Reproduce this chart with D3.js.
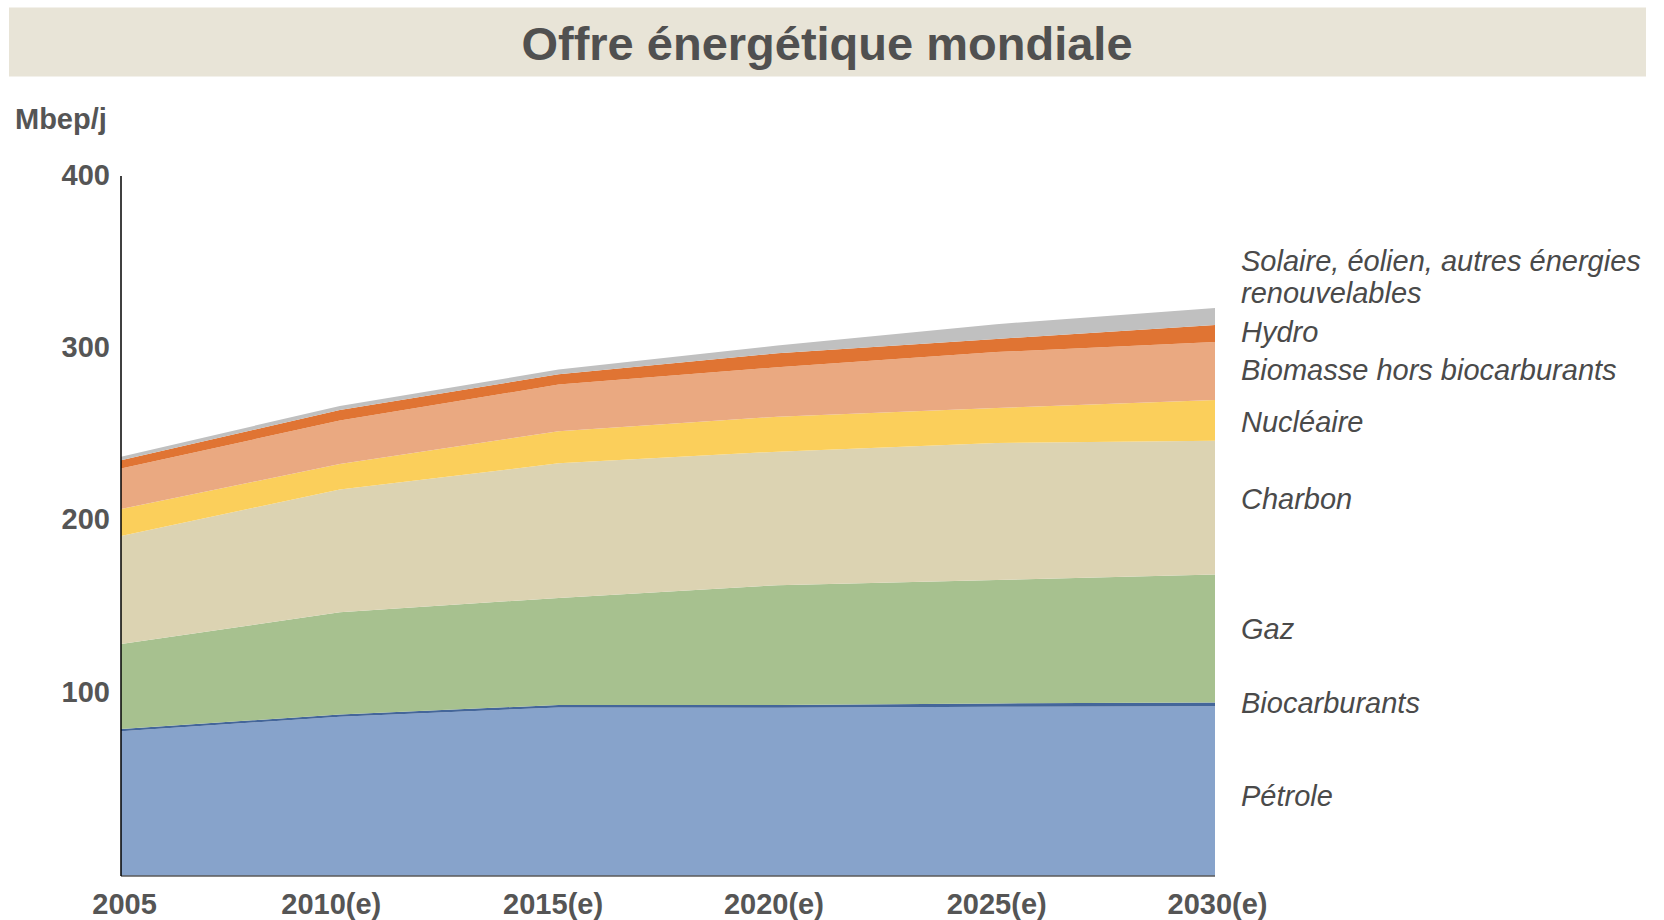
<!DOCTYPE html>
<html>
<head>
<meta charset="utf-8">
<script src="https://cdn.jsdelivr.net/npm/d3@7"></script>
<style>
  body { margin: 0; background: #fff; }
  text { font-family: "Liberation Sans", Arial, sans-serif; }
</style>
</head>
<body>
<script>
// values, Mbep/j
const years = ["2005", "2010(e)", "2015(e)", "2020(e)", "2025(e)", "2030(e)"]
const petrole = [82.7, 91.0, 96.3, 96.1, 96.7, 97.0]
const biocarburants = [1.3, 1.3, 1.4, 1.6, 1.9, 2.1]
const gaz = [48.6, 58.4, 61.2, 68.5, 70.5, 73.2]
const charbon = [61.7, 70.2, 76.9, 76.3, 78.3, 76.4]
const nucleaire = [15.4, 14.5, 18.4, 20.0, 20.0, 23.3]
const biomasse = [23.1, 24.9, 26.6, 28.2, 32.0, 33.1]
const hydro = [4.8, 6.0, 5.9, 8.0, 7.5, 9.8]
const solaire = [2.0, 2.3, 2.7, 4.4, 8.4, 9.7]

const seriesNames = ["Pétrole", "Biocarburants", "Gaz", "Charbon", "Nucléaire",
  "Biomasse hors biocarburants", "Hydro", "Solaire, éolien, autres énergies renouvelables"]
const seriesValues = [petrole, biocarburants, gaz, charbon, nucleaire, biomasse, hydro, solaire]
const yTicks = [100, 200, 300, 400]

const colors = ["#87a3cb", "#44669a", "#a7c18f", "#dcd3b2", "#fbcf5b", "#eaa981", "#e07433", "#c0c0c0"]
// small vertical shifts of the right-hand labels from the band middle
const labelNudge = [5, -1, -9.5, -8.6, 1.6, -1, -1.7, -39]
// the year labels in the picture are not exactly centred on the points
const yearNudge = [3, -9, -6, -4, 0, 2]

const width = 1664
const height = 920
const textColor = "#555555"

const svg = d3.select("body").append("svg")
  .attr("width", width)
  .attr("height", height)

// title band
svg.append("rect")
  .attr("x", 9).attr("y", 7.5)
  .attr("width", 1637).attr("height", 69)
  .attr("fill", "#e8e4d7")
svg.append("text")
  .attr("x", 827).attr("y", 43)
  .attr("text-anchor", "middle")
  .attr("dominant-baseline", "central")
  .attr("font-size", 47).attr("font-weight", "bold")
  .attr("fill", "#505050")
  .text("Offre énergétique mondiale")

svg.append("text")
  .attr("x", 15).attr("y", 119)
  .attr("dominant-baseline", "central")
  .attr("font-size", 29).attr("font-weight", "bold")
  .attr("fill", textColor)
  .text("Mbep/j")

const xScale = d3.scalePoint().domain(years).range([121, 1215])
const yScale = d3.scaleLinear().domain([0, 400]).range([876, 176])
// the tick labels in the picture sit on a slightly tighter scale than the plot
const yLabelScale = d3.scaleLinear().domain([0, 400]).range([864, 175])

const table = years.map((yr, i) => {
  const row = { year: yr }
  seriesNames.forEach((name, s) => { row[name] = seriesValues[s][i] })
  return row
})
const stacked = d3.stack().keys(seriesNames)(table)

const area = d3.area()
  .x(d => xScale(d.data.year))
  .y0(d => yScale(d[0]))
  .y1(d => yScale(d[1]))

svg.append("g")
  .selectAll("path")
  .data(stacked)
  .enter()
  .append("path")
  .attr("d", area)
  .attr("fill", (d, i) => colors[i])

// axes lines
svg.append("line")
  .attr("x1", xScale(years[0])).attr("x2", xScale(years[years.length - 1]))
  .attr("y1", yScale(0)).attr("y2", yScale(0))
  .attr("stroke", "#5a5a5a").attr("stroke-width", 1.5)
svg.append("line")
  .attr("x1", xScale(years[0])).attr("x2", xScale(years[0]))
  .attr("y1", yScale(400)).attr("y2", yScale(0))
  .attr("stroke", "#000").attr("stroke-width", 1.5)

const yAxis = svg.append("g")
  .attr("transform", "translate(" + xScale(years[0]) + ",0)")
  .call(d3.axisLeft(yLabelScale).tickValues(yTicks).tickSize(0).tickPadding(11))
yAxis.select(".domain").remove()
yAxis.selectAll("text")
  .attr("font-size", 29).attr("font-weight", "bold")
  .attr("font-family", "Liberation Sans, Arial, sans-serif")
  .attr("fill", textColor)

const xAxis = svg.append("g")
  .attr("transform", "translate(0," + yScale(0) + ")")
  .call(d3.axisBottom(xScale).tickSize(0).tickPadding(17))
xAxis.select(".domain").remove()
xAxis.selectAll("text")
  .attr("dx", (d, i) => yearNudge[i])
  .attr("font-size", 29).attr("font-weight", "bold")
  .attr("font-family", "Liberation Sans, Arial, sans-serif")
  .attr("fill", textColor)

// labels on the right, one per band
const last = years.length - 1
const labels = svg.append("g")
stacked.forEach((layer, i) => {
  const mid = yScale((layer[last][0] + layer[last][1]) / 2) + labelNudge[i]
  const t = labels.append("text")
    .attr("x", 1241)
    .attr("y", mid)
    .attr("dominant-baseline", "central")
    .attr("font-size", 29).attr("font-style", "italic")
    .attr("fill", "#4a4a4a")
  if (i === seriesNames.length - 1) {
    t.append("tspan").attr("x", 1241).attr("y", mid - 16).text("Solaire, éolien, autres énergies")
    t.append("tspan").attr("x", 1241).attr("y", mid + 16).text("renouvelables")
  } else {
    t.text(seriesNames[i])
  }
})
</script>
</body>
</html>
